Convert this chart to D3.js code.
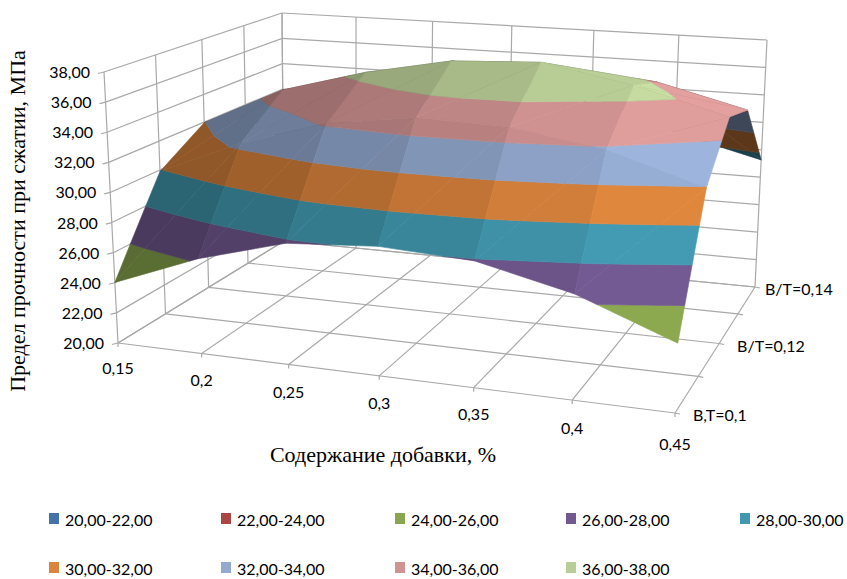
<!DOCTYPE html>
<html><head><meta charset="utf-8">
<script src="https://cdn.jsdelivr.net/npm/d3@7/dist/d3.min.js"></script>
<style>html,body{margin:0;padding:0;background:#fff}svg{display:block}</style>
</head><body><svg id="c" width="847" height="579"></svg>
<script>
const xCategories = ["0,15","0,2","0,25","0,3","0,35","0,4","0,45"];
const seriesLabels = ["В,Т=0,1","","В/Т=0,12","","В/Т=0,14"];
const zTicks = [20,22,24,26,28,30,32,34,36,38];
const row010 = [24.02,26.2,27.8,28.2,27.9,26.5,24.2];
const row011 = [29.9,32.35,34.15,35.0,34.85,33.85,31.95];
const row012 = [31.95,34.75,36.4,37.6,37.9,36.75,35.07];
const row013 = [31.0,33.0,35.0,36.0,36.0,35.75,34.2];
const row014 = [28.0,30.0,32.0,33.0,33.0,30.8,29.26];
const rows = [row010,row011,row012,row013,row014];
const bandNames = ["20,00-22,00","22,00-24,00","24,00-26,00","26,00-28,00","28,00-30,00","30,00-32,00","32,00-34,00","34,00-36,00","36,00-38,00"];
const bandColors = ["#4572A7","#AA4643","#89A54E","#71588F","#4198AF","#DB843D","#93A9CF","#D19392","#B9CD96"];

const svg = d3.select("#c");
const GRID = "#a9a9a9";
function quadMap(p0,p1,p2,p3){
  const dx1=p1[0]-p2[0],dx2=p3[0]-p2[0],sx=p0[0]-p1[0]+p2[0]-p3[0];
  const dy1=p1[1]-p2[1],dy2=p3[1]-p2[1],sy=p0[1]-p1[1]+p2[1]-p3[1];
  const den=dx1*dy2-dx2*dy1;
  const g=(sx*dy2-dx2*sy)/den,h=(dx1*sy-sx*dy1)/den;
  const a=p1[0]-p0[0]+g*p1[0],b=p3[0]-p0[0]+h*p3[0],c=p0[0];
  const d=p1[1]-p0[1]+g*p1[1],e=p3[1]-p0[1]+h*p3[1],f=p0[1];
  return (u,v)=>{const w=g*u+h*v+1;return [(a*u+b*v+c)/w,(d*u+e*v+f)/w];};
}
const floorMap = quadMap([118,343],[675,413],[755,287],[284,241]);
const topMap = quadMap([104,72],[687,114],[767,40],[282,13]);
const uScale = d3.scaleLinear().domain([0,xCategories.length-1]).range([0,1]);
const vScale = d3.scaleLinear().domain([0,rows.length-1]).range([0,1]);
const wScale = d3.scaleLinear().domain([20,38]).range([0,1]);
function P(c,r,z){
  const u=uScale(c),v=vScale(r),w=wScale(z);
  const a=floorMap(u,v),b=topMap(u,v);
  return [a[0]+(b[0]-a[0])*w,a[1]+(b[1]-a[1])*w];
}
const line = d3.line();
function seg(a,b,w){svg.append("path").attr("d",line([a,b])).attr("fill","none").attr("stroke",GRID).attr("stroke-width",w||1.2);}
const nC=xCategories.length-1,nR=rows.length-1;
zTicks.forEach(z=>{
  seg(P(0,0,z),P(0,nR,z));
  seg(P(0,nR,z),P(nC,nR,z));
  const a=P(0,0,z); seg([a[0]-6,a[1]+1.5],a);
});
d3.range(nR+1).forEach(r=>seg(P(0,r,20),P(0,r,38)));
d3.range(nC+1).forEach(c=>seg(P(c,nR,20),P(c,nR,38)));
d3.range(nR+1).forEach(r=>{
  seg(P(0,r,20),P(nC,r,20));
  const b=P(nC,r,20); seg(b,[b[0]+5,b[1]+1]);
});
d3.range(nC+1).forEach(c=>{
  seg(P(c,0,20),P(c,nR,20));
  const b=P(c,0,20); seg(b,[b[0],b[1]+4]);
});
function clip(poly,level,keepAbove){
  const out=[];
  const inside=p=>keepAbove?p[2]>=level:p[2]<=level;
  for(let i=0;i<poly.length;i++){
    const a=poly[i],b=poly[(i+1)%poly.length];
    const ia=inside(a),ib=inside(b);
    if(ia)out.push(a);
    if(ia!==ib){const t=(level-a[2])/(b[2]-a[2]);out.push([a[0]+(b[0]-a[0])*t,a[1]+(b[1]-a[1])*t,level]);}
  }
  return out;
}
function triShade(tri,cell){
  const S=q=>[q[0],q[1],(q[2]-20)/18*4.0];
  const [a,b,c]=tri.map(S);
  const e=[b[0]-a[0],b[1]-a[1],b[2]-a[2]],f=[c[0]-a[0],c[1]-a[1],c[2]-a[2]];
  let n=[e[1]*f[2]-e[2]*f[1],e[2]*f[0]-e[0]*f[2],e[0]*f[1]-e[1]*f[0]];
  if(n[2]<0)n=n.map(d=>-d);
  const m=Math.hypot(...n);
  return 0.60+0.36*((cell+0.5)/nC)+0.14*(n[0]/m)+0.12*(n[2]/m);
}
function drawTri(tri,s0){
  const pts=tri.map(q=>P(q[0],q[1],q[2]));
  const back=d3.polygonArea(pts)<0;
  const s=back?0.42:s0;
  bandNames.forEach((n,i)=>{
    const lo=20+2*i,hi=lo+2;
    let poly=clip(tri,lo,true);
    if(poly.length)poly=clip(poly,hi,false);
    if(poly.length<3)return;
    const col=d3.rgb(bandColors[i]);
    const f=d3.rgb(Math.min(255,col.r*s),Math.min(255,col.g*s),Math.min(255,col.b*s)).formatHex();
    svg.append("path").attr("d",line(poly.map(q=>P(q[0],q[1],q[2])))+"Z")
      .attr("fill",f).attr("stroke",f).attr("stroke-width",0.6).attr("stroke-linejoin","round");
  });
}
for(let r=nR-1;r>=0;r--){
  for(let c=0;c<nC;c++){
    const A=[c,r,rows[r][c]],B=[c+1,r,rows[r][c+1]],C=[c+1,r+1,rows[r+1][c+1]],D=[c,r+1,rows[r+1][c]];
    const s1=triShade([A,C,D],c),s2=triShade([A,B,C],c),m=(s1+s2)/2;
    drawTri([A,C,D],0.8*m+0.2*s1);
    drawTri([A,B,C],0.8*m+0.2*s2);
  }
}
const tickFont="Lato";
const T=(x,y,s,anchor,size,fam)=>svg.append("text").attr("x",x).attr("y",y).attr("text-anchor",anchor||"start").attr("font-family",fam||tickFont).attr("font-size",size||16).attr("fill","#000").text(s);
zTicks.forEach(z=>{const p=P(0,0,z);T(p[0]-14,p[1]+6,d3.format(".2f")(z).replace(".",","),"end");});
const xOff=[31,32,34,33,32,34,37];
xCategories.forEach((s,c)=>{const p=P(c,0,20);T(p[0],p[1]+xOff[c],s,"middle");});
const sOff=[18,0,18,0,10];
seriesLabels.forEach((s,r)=>{if(!s)return;const p=P(nC,r,20);T(p[0]+sOff[r],p[1]+8,s,"start");});
svg.append("text").attr("transform","translate(25,221) rotate(-90)").attr("text-anchor","middle").attr("font-family","Liberation Serif").attr("font-size",22).text("Предел прочности при сжатии, МПа");
T(383,462,"Содержание добавки, %","middle",22,"Liberation Serif");
const legX=[49,221,395,566,740],legY=[513,562];
bandNames.forEach((n,i)=>{
  const cx=legX[i%5],cy=legY[Math.floor(i/5)];
  svg.append("rect").attr("x",cx).attr("y",cy).attr("width",10).attr("height",11).attr("fill",bandColors[i]);
  T(cx+16,cy+13,n,"start");
});
</script></body></html>
